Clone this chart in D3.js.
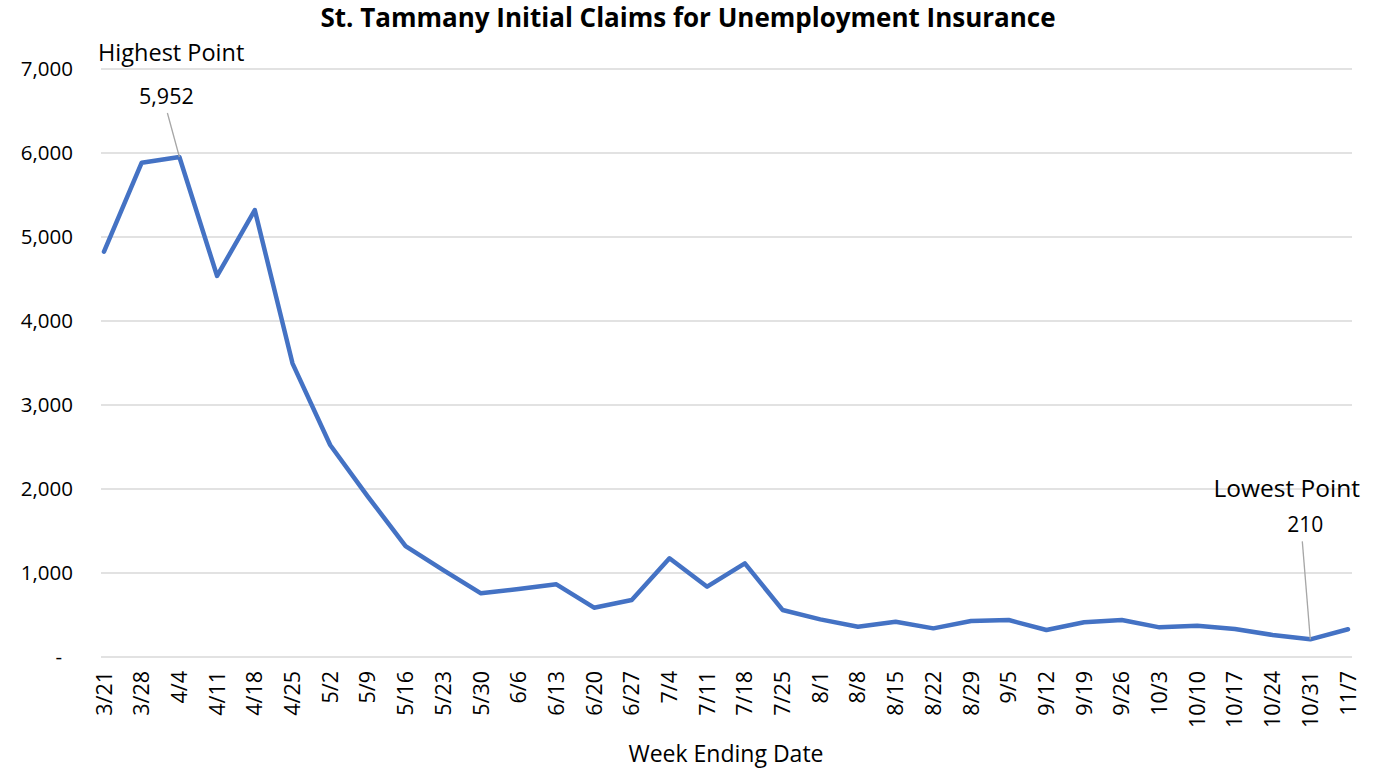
<!DOCTYPE html>
<html>
<head>
<meta charset="utf-8">
<style>
  body { margin: 0; background: #fff; }
  text { font-family: "Open Sans", "Noto Sans", sans-serif; fill: #000; }
</style>
</head>
<body>
<div id="chart"></div>
<script src="https://cdn.jsdelivr.net/npm/d3@7"></script>
<script>
// week ending dates
var weeks = ["3/21","3/28","4/4","4/11","4/18","4/25","5/2","5/9","5/16","5/23","5/30",
  "6/6","6/13","6/20","6/27","7/4","7/11","7/18","7/25","8/1","8/8","8/15","8/22",
  "8/29","9/5","9/12","9/19","9/26","10/3","10/10","10/17","10/24","10/31","11/7"]
// initial claims
var claims = [4825,5885,5952,4536,5321,3496,2524,1910,1321,1035,758,
  810,865,587,679,1175,837,1115,560,448,361,420,341,
  429,440,321,413,440,353,373,333,262,210,330]
var yTicks = [0,1000,2000,3000,4000,5000,6000,7000]

var W = 1385, H = 769
var margin = {top:69, right:33, bottom:112, left:101}
var width = W - margin.left - margin.right
var height = H - margin.top - margin.bottom

var svg = d3.select("#chart").append("svg")
  .attr("width", W).attr("height", H)

var g = svg.append("g")
  .attr("transform", "translate(" + margin.left + "," + margin.top + ")")

var x = d3.scalePoint().domain(weeks).range([3, width - 4])
var y = d3.scaleLinear().domain([0, 7000]).range([height, 0])

// gridlines
g.selectAll("line.grid").data(yTicks).enter().append("line")
  .attr("class", "grid")
  .attr("x1", 0).attr("x2", width)
  .attr("y1", d => y(d)).attr("y2", d => y(d))
  .attr("stroke", "#d9d9d9").attr("stroke-width", 1.3)

// y tick labels
var fmt = d3.format(",")
g.selectAll("text.ytick").data(yTicks).enter().append("text")
  .attr("class", "ytick")
  .attr("x", d => d === 0 ? -39 : -28)
  .attr("y", d => y(d))
  .attr("dy", "0.35em")
  .attr("text-anchor", "end")
  .style("font-size", "20.5px")
  .text(d => d === 0 ? "-" : fmt(d))

// x tick labels, rotated
g.selectAll("text.xtick").data(weeks).enter().append("text")
  .attr("class", "xtick")
  .attr("transform", d => "translate(" + x(d) + "," + (height + 14) + ") rotate(-90)")
  .attr("dy", "0.35em")
  .attr("text-anchor", "end")
  .style("font-size", "21.5px")
  .text(d => d)

// line
var line = d3.line().x((d, i) => x(weeks[i])).y(d => y(d))
g.append("path").datum(claims)
  .attr("fill", "none")
  .attr("stroke", "#4472c4")
  .attr("stroke-width", 4.5)
  .attr("stroke-linejoin", "round")
  .attr("stroke-linecap", "round")
  .attr("d", line)

// annotations
var hi = claims.indexOf(d3.max(claims))
var lo = claims.indexOf(d3.min(claims))

g.append("line")
  .attr("x1", x(weeks[hi]) - 12).attr("y1", y(claims[hi]) - 44)
  .attr("x2", x(weeks[hi])).attr("y2", y(claims[hi]))
  .attr("stroke", "#a6a6a6").attr("stroke-width", 1.3)
g.append("text")
  .attr("x", x(weeks[hi]) - 13).attr("y", y(claims[hi]) - 61)
  .attr("dy", "0.35em").attr("text-anchor", "middle")
  .style("font-size", "21.5px")
  .text(fmt(claims[hi]))
g.append("text")
  .attr("x", -3).attr("y", -16)
  .attr("dy", "0.35em")
  .style("font-size", "23.5px")
  .text("Highest Point")

g.append("line")
  .attr("x1", x(weeks[lo]) - 8).attr("y1", y(claims[lo]) - 98)
  .attr("x2", x(weeks[lo])).attr("y2", y(claims[lo]))
  .attr("stroke", "#a6a6a6").attr("stroke-width", 1.3)
g.append("text")
  .attr("x", x(weeks[lo]) - 5).attr("y", y(claims[lo]) - 115)
  .attr("dy", "0.35em").attr("text-anchor", "middle")
  .style("font-size", "21px")
  .text(claims[lo])
g.append("text")
  .attr("x", width + 8).attr("y", 488 - margin.top)
  .attr("dy", "0.35em").attr("text-anchor", "end")
  .style("font-size", "24.5px")
  .text("Lowest Point")

// titles
svg.append("text")
  .attr("x", 688).attr("y", 18)
  .attr("dy", "0.35em").attr("text-anchor", "middle")
  .style("font-size", "26px").style("font-weight", "bold")
  .text("St. Tammany Initial Claims for Unemployment Insurance")

svg.append("text")
  .attr("x", 726).attr("y", 754)
  .attr("dy", "0.35em").attr("text-anchor", "middle")
  .style("font-size", "23px")
  .text("Week Ending Date")
</script>
</body>
</html>
